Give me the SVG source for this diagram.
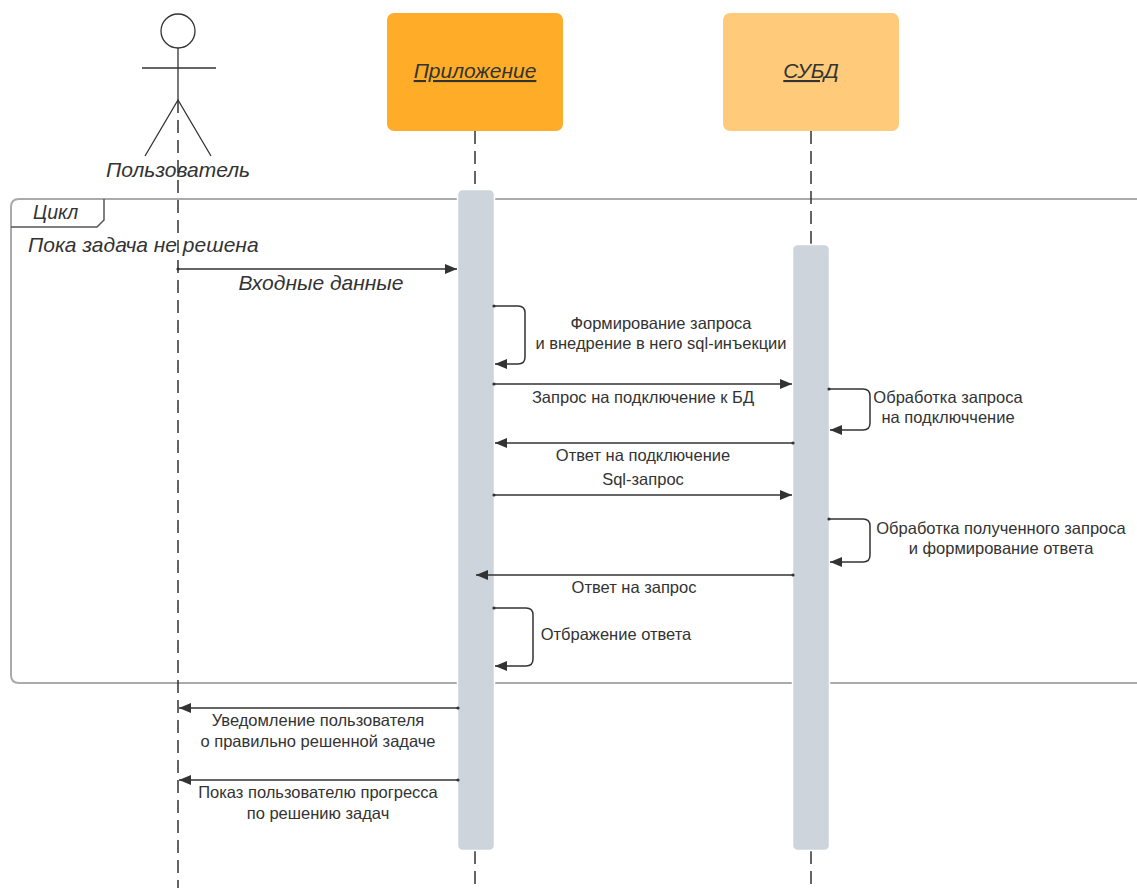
<svg xmlns="http://www.w3.org/2000/svg" width="1137" height="888" viewBox="0 0 1137 888">
<defs>
<marker id="ah" viewBox="0 0 12 10" refX="12" refY="5" markerWidth="12" markerHeight="10" markerUnits="userSpaceOnUse" orient="auto">
<path d="M0,0 L12,5 L0,10 Z" fill="#333"/>
</marker>
<marker id="dot" viewBox="0 0 4 4" refX="2" refY="2" markerWidth="4" markerHeight="4" markerUnits="userSpaceOnUse">
<circle cx="2" cy="2" r="1.6" fill="#333"/>
</marker>
</defs>
<style>
.life{stroke:#333;stroke-width:1.5;stroke-dasharray:13 7;fill:none}
.bar{fill:#CDD4DC;stroke:#fff;stroke-width:1.5}
.msg{stroke:#333;stroke-width:1.5;fill:none;marker-end:url(#ah);marker-start:url(#dot)}
.lbl{font-family:"Liberation Sans",Arial,sans-serif;font-size:16.5px;fill:#333;text-anchor:middle}
.it{font-family:"Liberation Sans",Arial,sans-serif;font-size:21px;fill:#333;font-style:italic}
.frame{fill:none;stroke:#aaa;stroke-width:2}
</style>
<rect width="1137" height="888" fill="#fff"/>

<g id="loop-frame">
<path class="frame" d="M1140,199 H19 Q11,199 11,207 V675 Q11,683 19,683 H1140"/>
<path d="M11,227 H97 L104,220 V199" fill="none" stroke="#555" stroke-width="1.5"/>
<text class="it" x="33" y="219" style="font-size:19.5px">Цикл</text>
<text class="it" x="28" y="252">Пока задача не решена</text>
</g>

<g id="lifelines">
<line class="life" x1="178" y1="100" x2="178" y2="888"/>
<line class="life" x1="475" y1="131" x2="475" y2="888"/>
<line class="life" x1="811" y1="131" x2="811" y2="888"/>
</g>

<g id="user">
<circle cx="178" cy="31" r="17" fill="#fff" stroke="#333" stroke-width="1.3"/>
<line x1="178" y1="48" x2="178" y2="100" stroke="#333" stroke-width="1.3"/>
<line x1="142" y1="68" x2="216" y2="68" stroke="#333" stroke-width="1.3"/>
<path d="M145,156 L178,100 L211,156" fill="none" stroke="#333" stroke-width="1.3"/>
<text class="it" x="178" y="177" text-anchor="middle">Пользователь</text>
</g>

<g id="app">
<rect x="387" y="13" width="176" height="118" rx="7" fill="#FFAD29"/>
<text class="it" x="475" y="78" text-anchor="middle" text-decoration="underline">Приложение</text>
</g>

<g id="dbms">
<rect x="723" y="13" width="176" height="118" rx="7" fill="#FFCB7A"/>
<text class="it" x="811" y="78" text-anchor="middle" text-decoration="underline">СУБД</text>
</g>

<g id="app-activation">
<rect class="bar" x="457.5" y="189.5" width="37" height="661" rx="5"/>
</g>
<g id="dbms-activation">
<rect class="bar" x="792.5" y="244.5" width="37" height="606" rx="5"/>
</g>

<g id="connectors">
<line class="msg" x1="178" y1="269" x2="457" y2="269"/>
<path class="msg" d="M494,306 H518 Q525,306 525,313 V357 Q525,364 518,364 H495"/>
<line class="msg" x1="494" y1="384" x2="792" y2="384"/>
<path class="msg" d="M829,389 H863 Q870,389 870,396 V423 Q870,430 863,430 H830"/>
<line class="msg" x1="793" y1="443" x2="495" y2="443"/>
<line class="msg" x1="494" y1="495" x2="792" y2="495"/>
<path class="msg" d="M829,519 H863 Q870,519 870,526 V555 Q870,562 863,562 H830"/>
<line class="msg" x1="793" y1="575" x2="476" y2="575"/>
<path class="msg" d="M494,608 H526 Q533,608 533,615 V659 Q533,666 526,666 H495"/>
<line class="msg" x1="458" y1="708" x2="179" y2="708"/>
<line class="msg" x1="458" y1="780" x2="179" y2="780"/>
</g>

<g id="labels">
<text class="it" x="321" y="290" text-anchor="middle">Входные данные</text>
<text class="lbl" x="661" y="329">Формирование запроса</text>
<text class="lbl" x="661" y="349">и внедрение в него sql-инъекции</text>
<text class="lbl" x="643" y="403">Запрос на подключение к БД</text>
<text class="lbl" x="948" y="403">Обработка запроса</text>
<text class="lbl" x="948" y="423">на подключчение</text>
<text class="lbl" x="643" y="461">Ответ на подключение</text>
<text class="lbl" x="643" y="485">Sql-запрос</text>
<text class="lbl" x="1001" y="534">Обработка полученного запроса</text>
<text class="lbl" x="1001" y="554">и формирование ответа</text>
<text class="lbl" x="634" y="593">Ответ на запрос</text>
<text class="lbl" x="616" y="640">Отбражение ответа</text>
<text class="lbl" x="318" y="726">Уведомление пользователя</text>
<text class="lbl" x="318" y="747">о правильно решенной задаче</text>
<text class="lbl" x="318" y="798">Показ пользователю прогресса</text>
<text class="lbl" x="318" y="819">по решению задач</text>
</g>
</svg>
